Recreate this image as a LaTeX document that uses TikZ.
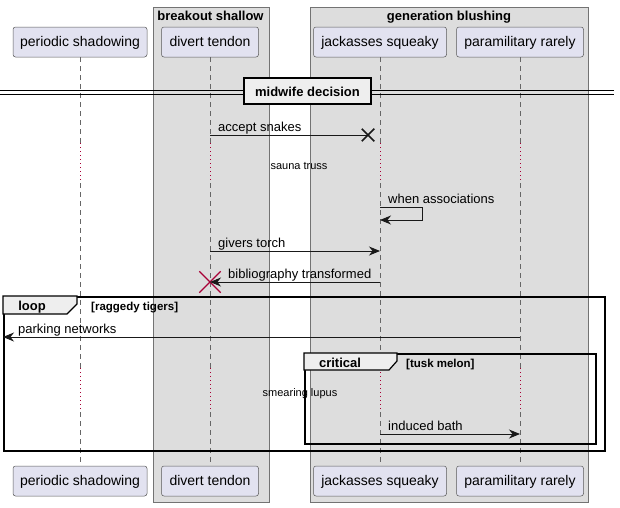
\documentclass[tikz,border=0pt]{standalone}
\usepackage{fontspec}
\setmainfont{Liberation Sans}
\usetikzlibrary{arrows.meta,shapes.misc}
\definecolor{partfill}{HTML}{E2E2F0}
\definecolor{grpfill}{HTML}{DDDDDD}
\definecolor{tabfill}{HTML}{EEEEEE}
\definecolor{destroyred}{HTML}{A80036}
\begin{document}
\begin{tikzpicture}[x=1pt,y=-1pt,
  actor/.style={draw=black!65, line width=0.5pt, fill=partfill, rounded corners=2.5pt, minimum height=30pt, inner sep=0pt, text height=11pt, text depth=2pt, font=\fontsize{14}{16}\selectfont},
  grp/.style={draw=black!55, line width=0.6pt, fill=grpfill},
  grptitle/.style={anchor=base, inner sep=0pt, font=\fontsize{13}{15}\selectfont\bfseries},
  lifeline/.style={draw=black!60, line width=0.5pt, dash pattern=on 5pt off 4pt},
  delayline/.style={draw=destroyred, line width=0.6pt, dash pattern=on 1pt off 3pt},
  msg/.style={draw=black!90, line width=0.9pt, -{Stealth[length=11pt,width=9pt,inset=3.5pt]}},
  msglabel/.style={anchor=base west, inner sep=0pt, font=\fontsize{13}{15}\selectfont},
  delaylabel/.style={anchor=base, inner sep=0pt, font=\fontsize{11}{13}\selectfont},
  frame/.style={draw=black, line width=1.5pt, anchor=north west, inner sep=0pt},
  tab/.style={draw=black, line width=1.2pt, fill=tabfill},
  tabtitle/.style={anchor=base, inner sep=0pt, font=\fontsize{13}{15}\selectfont\bfseries},
  guard/.style={anchor=base west, inner sep=0pt, font=\fontsize{11.5}{13}\selectfont\bfseries}]
\useasboundingbox (0,0) rectangle (620,507);
% boxes of the groups
\draw[grp] (153,7) rectangle (269,502);
\draw[grp] (310,7) rectangle (588,502);
\node[grptitle] (bs) at (210.5,20) {breakout shallow};
\node[grptitle] (gb) at (449,20) {generation blushing};
% participants
\node[actor, minimum width=134pt] (ps) at (80,42) {periodic shadowing};
\node[actor, minimum width=97pt] (dt) at (210,42) {divert tendon};
\node[actor, minimum width=133pt] (js) at (380,42) {jackasses squeaky};
\node[actor, minimum width=127pt] (pr) at (520,42) {paramilitary rarely};
\node[actor, minimum width=134pt] (psb) at (80,481) {periodic shadowing};
\node[actor, minimum width=97pt] (dtb) at (210,481) {divert tendon};
\node[actor, minimum width=133pt] (jsb) at (380,481) {jackasses squeaky};
\node[actor, minimum width=127pt] (prb) at (520,481) {paramilitary rarely};
% lifelines, dotted where delayed
\foreach \p/\q in {ps/psb,dt/dtb,js/jsb,pr/prb}{
  \draw[lifeline] (\p.south) -- (\p |- 0,143);
  \draw[delayline] (\p |- 0,143) -- (\p |- 0,183);
  \draw[lifeline] (\p |- 0,183) -- (\p |- 0,368);
  \draw[delayline] (\p |- 0,368) -- (\p |- 0,412);
  \draw[lifeline] (\p |- 0,412) -- (\q.north);
}
% divider
\draw[line width=0.8pt] (0,90) -- (614,90);
\draw[line width=0.8pt] (0,94) -- (614,94);
\node[draw=black, line width=1.6pt, fill=tabfill, minimum width=127pt, minimum height=26pt, inner sep=0pt, text height=10pt, text depth=0pt, font=\fontsize{13}{15}\selectfont\bfseries] (md) at (307.5,91) {midwife decision};
% frames
\node[frame, minimum width=601pt, minimum height=154pt] (loop) at (3,296) {};
\draw[tab] (3,296) -- (77,296) -- (77,304) -- (67,314) -- (3,314) -- cycle;
\node[tabtitle] (lt) at (32,310) {loop};
\node[guard] (lg) at (91,310) {[raggedy tigers]};
\node[frame, minimum width=291pt, minimum height=90pt] (crit) at (304,353) {};
\draw[tab] (304,353) -- (397,353) -- (397,361) -- (389,370) -- (304,370) -- cycle;
\node[tabtitle] (ct) at (340,367) {critical};
\node[guard] (cg) at (406,367) {[tusk melon]};
% messages
\coordinate (as1) at (dt |- 0,135);
\coordinate (as2) at (368,135);
\draw[draw=black!90, line width=0.9pt] (as1) -- (as2);
\node[cross out, draw=black!90, line width=1.5pt, minimum size=11pt, inner sep=0pt] (lx) at (as2) {};
\node[msglabel] at (218,131) {accept snakes};
\node[delaylabel] at (299,169) {sauna truss};
\coordinate (wa1) at (js |- 0,207);
\coordinate (wa2) at (js |- 0,220);
\draw[msg] (wa1) -- ++(42,0) |- (wa2);
\node[msglabel] at (388,203) {when associations};
\coordinate (gt1) at (dt |- 0,251);
\coordinate (gt2) at (js |- 0,251);
\draw[msg] (gt1) -- (gt2);
\node[msglabel] at (218,247) {givers torch};
\coordinate (bt1) at (js |- 0,282);
\coordinate (bt2) at (dt |- 0,282);
\node[cross out, draw=destroyred, line width=1.3pt, minimum size=20pt, inner sep=0pt] (dx) at (bt2) {};
\draw[msg] (bt1) -- (bt2);
\node[msglabel] at (228,278) {bibliography transformed};
\coordinate (pn1) at (pr |- 0,337);
\draw[msg] (pn1) -- (loop.west |- pn1);
\node[msglabel] at (18,333) {parking networks};
\node[delaylabel] at (300,396) {smearing lupus};
\coordinate (ib1) at (js |- 0,434);
\coordinate (ib2) at (pr |- 0,434);
\draw[msg] (ib1) -- (ib2);
\node[msglabel] at (388,430) {induced bath};
\end{tikzpicture}
\end{document}
